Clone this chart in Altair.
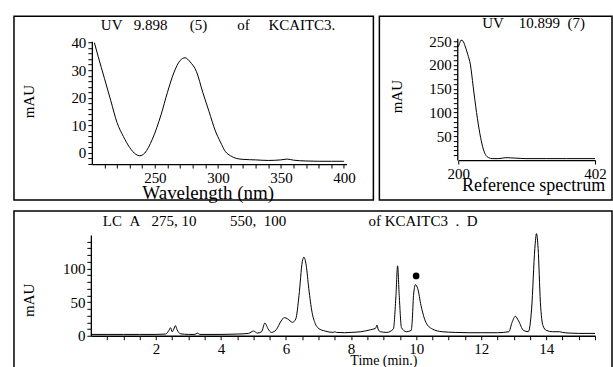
import altair as alt
import pandas as pd

# ---------------- data ----------------
# Panel 1: UV spectrum 9.898 (5)
uv1_wavelength = [202, 205, 210, 215, 220, 225, 230, 235, 238, 242, 248, 255, 260, 265,
                  270, 274, 278, 283, 288, 293, 298, 302, 306, 310, 315, 320, 330, 340,
                  350, 355, 360, 370, 380, 390, 400]
uv1_mau = [40, 35, 27, 19, 11, 6, 2, -0.5, -1, 0, 5, 14, 22, 29,
           33.5, 34.5, 33, 29.5, 22, 15, 8, 4, 0.5, -1, -2, -2.3, -2.5, -2.7,
           -2.5, -2.2, -2.6, -2.9, -3, -3, -3]

# Panel 2: reference spectrum 10.899 (7)
ref_wavelength = [200, 202, 204, 207, 210, 214, 218, 222, 227, 232, 236, 240, 245, 250,
                  260, 270, 285, 300, 330, 360, 402]
ref_mau = [238, 245, 252, 250, 240, 222, 200, 155, 100, 55, 28, 12, 5, 3,
           3, 5, 4, 3, 3, 3, 3]

# Panel 3: LC chromatogram
lc_time = [0.0, 0.5, 1.0, 1.5, 2.0, 2.3, 2.4, 2.45, 2.5, 2.55, 2.6, 2.65, 2.75, 3.0,
           3.2, 3.27, 3.35, 4.0, 4.5, 4.85, 5.0, 5.12, 5.25, 5.35, 5.45, 5.55, 5.7,
           5.85, 5.95, 6.05, 6.2, 6.3, 6.4, 6.5, 6.55, 6.62, 6.7, 6.8, 6.9, 7.0,
           7.2, 7.45, 7.5, 7.55, 7.8, 8.0, 8.3, 8.6, 8.75, 8.8, 8.83, 8.9, 9.1,
           9.3, 9.38, 9.43, 9.48, 9.55, 9.7, 9.85, 9.88, 9.92, 9.98, 10.05, 10.15,
           10.3, 10.5, 10.8, 11.2, 11.6, 12.0, 12.5, 12.85, 12.95, 13.05, 13.15,
           13.3, 13.45, 13.55, 13.65, 13.7, 13.75, 13.82, 13.9, 14.0, 14.2, 14.4,
           14.5, 14.7, 15.0, 15.5]
lc_mau = [2, 2, 2, 2, 2, 2.5, 8, 12, 6, 10, 15, 9, 3, 2,
          2, 4, 2, 2, 2.5, 3.5, 7, 4, 6, 19, 10, 5, 9,
          22, 27, 25, 20, 25, 60, 110, 117, 105, 70, 35, 18, 11,
          7, 5, 6, 5, 4.5, 5, 6, 9, 11, 16, 10, 6, 5,
          10, 60, 104, 60, 12, 6, 8, 22, 60, 76, 70, 45,
          20, 10, 6, 5, 4.5, 4.5, 4.5, 6, 20, 29, 22,
          8, 6, 40, 130, 152, 130, 50, 15, 8, 6, 6,
          5, 4, 3.5, 3.5]

# marked peak
dot_time = [10.0]
dot_mau = [89]

# tick values
p1_x_ticks = list(range(210, 401, 10))
p1_y_ticks = list(range(-4, 41, 2))
p2_x_ticks = [200, 402]
p2_y_ticks = list(range(10, 251, 10))
p3_x_ticks = [v / 2 for v in range(1, 32)]
p3_y_ticks = list(range(0, 141, 10))

FONT = "Liberation Serif"
NB = "\u00a0"


def sp(n):
    return NB * n


title1 = "UV" + sp(3) + "9.898" + sp(6) + "(5)" + sp(8) + "of" + sp(5) + "KCAITC3."
title2 = "UV" + sp(4) + "10.899" + sp(2) + "(7)"
title3 = ("LC" + sp(2) + "A" + sp(3) + "275, 10" + sp(9) + "550," + sp(2) + "100"
          + sp(22) + "of KCAITC3" + sp(2) + "." + sp(2) + "D")

VIEW = {"stroke": "black", "strokeWidth": 1.5, "fill": "white"}


def axis(values, expr, offset, title, tx, ty, tsize=15):
    return alt.Axis(
        values=values, labelExpr=expr, offset=offset, title=title,
        titleX=tx, titleY=ty, titleFontSize=tsize, titleFontWeight="normal",
        titleBaseline="middle", titleAlign="center", titleColor="black",
        labelFontSize=15, labelColor="black", labelFlush=False, labelOverlap=False,
        labelPadding=2, tickSize=4, tickColor="black", domainColor="black",
        domainWidth=1.3, tickWidth=1, grid=False, labelFont=FONT, titleFont=FONT,
    )


def ptitle(text, dx, dy):
    return alt.TitleParams(text=text, anchor="start", frame="group", dx=dx,
                           offset=0, dy=dy, baseline="middle", fontSize=15,
                           fontWeight="normal", font=FONT, color="black")


df1 = pd.DataFrame({"wl": uv1_wavelength, "mau": uv1_mau})
df2 = pd.DataFrame({"wl": ref_wavelength, "mau": ref_mau})
df3 = pd.DataFrame({"t": lc_time, "v": lc_mau})
df_dot = pd.DataFrame({"t": dot_time, "v": dot_mau})

p1 = alt.Chart(df1).mark_line(color="black", strokeWidth=1, interpolate="monotone").encode(
    x=alt.X("wl:Q", scale=alt.Scale(domain=[200, 402], range=[78, 333], nice=False, zero=False),
            axis=axis(p1_x_ticks, "datum.value % 50 == 0 ? format(datum.value, 'd') : ''",
                      -36, "Wavelength (nm)", 194, 29, 19)),
    y=alt.Y("mau:Q", scale=alt.Scale(domain=[-4, 40.5], range=[148, 25], nice=False, zero=False),
            axis=axis(p1_y_ticks, "datum.value % 10 == 0 ? format(datum.value, 'd') : ''",
                      -78, "mAU", -63, 85)),
).properties(width=360, height=184, title=ptitle(title1, 87, 24), view=VIEW)

p2 = alt.Chart(df2).mark_line(color="black", strokeWidth=1, interpolate="monotone").encode(
    x=alt.X("wl:Q", scale=alt.Scale(domain=[200, 402], range=[79, 216], nice=False, zero=False),
            axis=axis(p2_x_ticks, "format(datum.value, 'd')",
                      -40, "Reference spectrum", 154, 26, 18)),
    y=alt.Y("mau:Q", scale=alt.Scale(domain=[0, 256], range=[144, 22], nice=False, zero=False),
            axis=axis(p2_y_ticks, "datum.value % 50 == 0 ? format(datum.value, 'd') : ''",
                      -78, "mAU", -61, 80)),
).properties(width=233, height=184, title=ptitle(title2, 103, 22), view=VIEW)

x3 = alt.X("t:Q", scale=alt.Scale(domain=[0, 15.5], range=[77, 582], nice=False, zero=False),
           axis=axis(p3_x_ticks,
                     "datum.value % 2 == 0 && datum.value > 0 ? format(datum.value, 'd') : ''",
                     -34, "Time (min.)", 370, 25, 14))
y3 = alt.Y("v:Q", scale=alt.Scale(domain=[0, 150], range=[125, 24], nice=False, zero=False),
           axis=axis(p3_y_ticks, "datum.value % 50 == 0 ? format(datum.value, 'd') : ''",
                     -77, "mAU", -62, 89))

lc_line = alt.Chart(df3).mark_line(color="black", strokeWidth=1, interpolate="monotone").encode(
    x=x3, y=y3
)
lc_dot = alt.Chart(df_dot).mark_point(filled=True, color="black", size=45, opacity=1).encode(
    x=x3, y=y3
)
p3 = alt.layer(lc_line, lc_dot).properties(width=599, height=159,
                                             title=ptitle(title3, 89, 25), view=VIEW)

chart = alt.vconcat(
    alt.hconcat(p1, p2, spacing=6, bounds="flush"),
    p3, spacing=6,
).properties(
    padding={"left": 13, "top": 15, "right": 0, "bottom": 0},
    background="white",
).configure_view(stroke="black", strokeWidth=1.5).configure(font=FONT)

chart.save("out.html", embed_options={"renderer": "svg", "actions": False})
